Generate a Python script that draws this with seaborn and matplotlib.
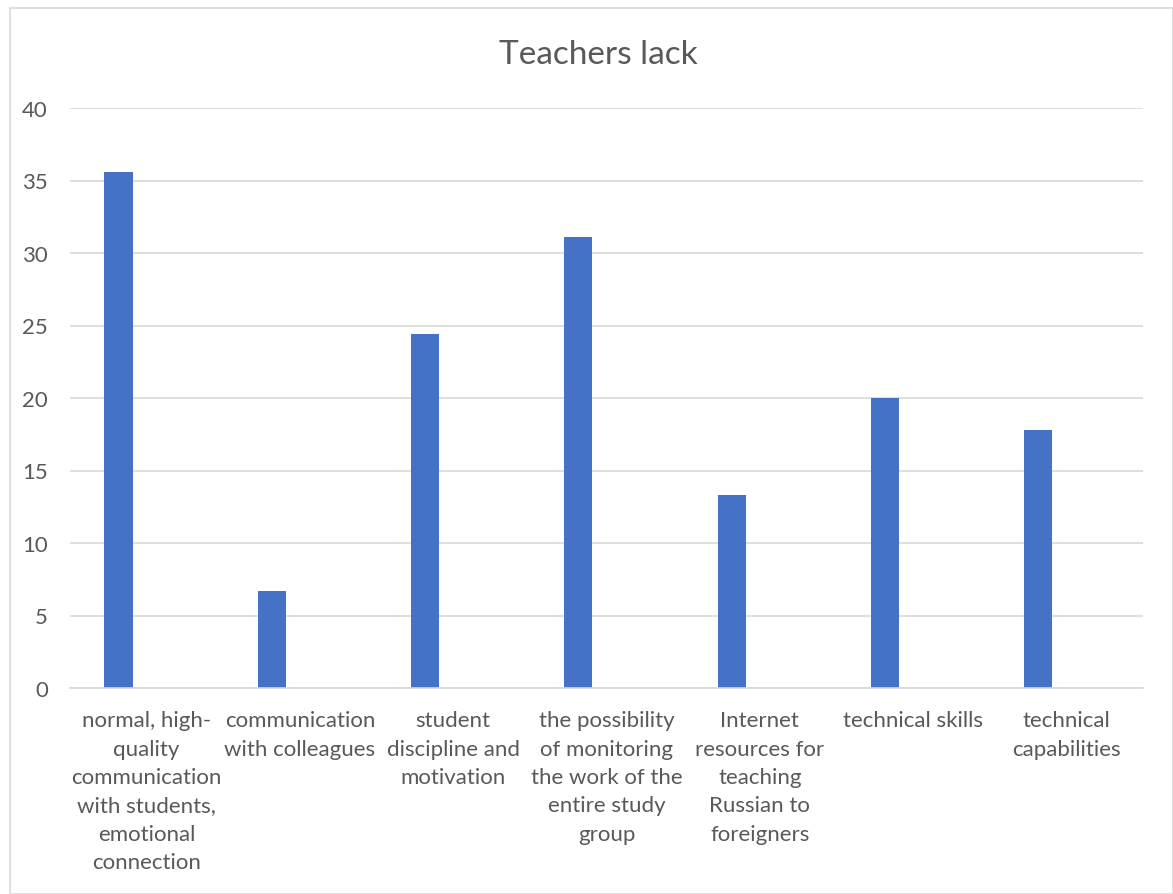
import matplotlib
matplotlib.use("Agg")
import matplotlib.pyplot as plt
import seaborn as sns
import pandas as pd
from matplotlib.patches import Rectangle

# chart data
categories = [
    "normal, high-\nquality\ncommunication\nwith students,\nemotional\nconnection",
    "communication\nwith colleagues",
    "student\ndiscipline and\nmotivation",
    "the possibility\nof monitoring\nthe work of the\nentire study\ngroup",
    "Internet\nresources for\nteaching\nRussian to\nforeigners",
    "technical skills",
    "technical\ncapabilities",
]
values = [35.6, 6.7, 24.4, 31.1, 13.3, 20.0, 17.8]
# Excel chart had empty extra series, which shifts the bars left
series = ["Series1", "Series2", "Series3"]
empty = [0] * len(categories)

df = pd.DataFrame({
    "Category": categories * 3,
    "Value": values + empty + empty,
    "Series": [series[0]] * 7 + [series[1]] * 7 + [series[2]] * 7,
})

sns.set_style("white")
plt.rcParams["font.family"] = ["Lato", "DejaVu Sans"]
grey = "#595959"

fig = plt.figure(figsize=(11.73, 8.95), dpi=100)
ax = fig.add_axes([70 / 1173, 1 - 689 / 895, (1143 - 70) / 1173, (689 - 109) / 895])

sns.barplot(data=df, x="Category", y="Value", hue="Series",
            palette=["#4472C4", "#4472C4", "#4472C4"], saturation=1,
            width=0.55, gap=0, linewidth=0, legend=False, ax=ax)

ax.set_ylim(0, 40)
ax.set_xlim(-0.5, 6.5)
ax.set_yticks(range(0, 41, 5))
ax.yaxis.grid(True, color="#d9d9d9", linewidth=1.2)
ax.set_axisbelow(True)
for s in ["top", "right", "left"]:
    ax.spines[s].set_visible(False)
ax.spines["bottom"].set_color("#d9d9d9")
ax.spines["bottom"].set_linewidth(1.2)
ax.tick_params(axis="both", length=0, labelsize=16, colors=grey)
ax.tick_params(axis="x", pad=16)
ax.tick_params(axis="y", pad=16)
for lbl in ax.get_xticklabels():
    lbl.set_linespacing(1.52)
ax.set_xlabel("")
ax.set_ylabel("")

fig.text(0.51, 1 - 55 / 895, "Teachers lack", ha="center", va="center",
         fontsize=24, color=grey)

fig.patches.append(Rectangle((10 / 1173, 0.0), 1 - 10 / 1173, 1 - 9 / 895,
                             transform=fig.transFigure, fill=False,
                             edgecolor="#d9d9d9", linewidth=1.2))

fig.savefig("out.png", dpi=100)
